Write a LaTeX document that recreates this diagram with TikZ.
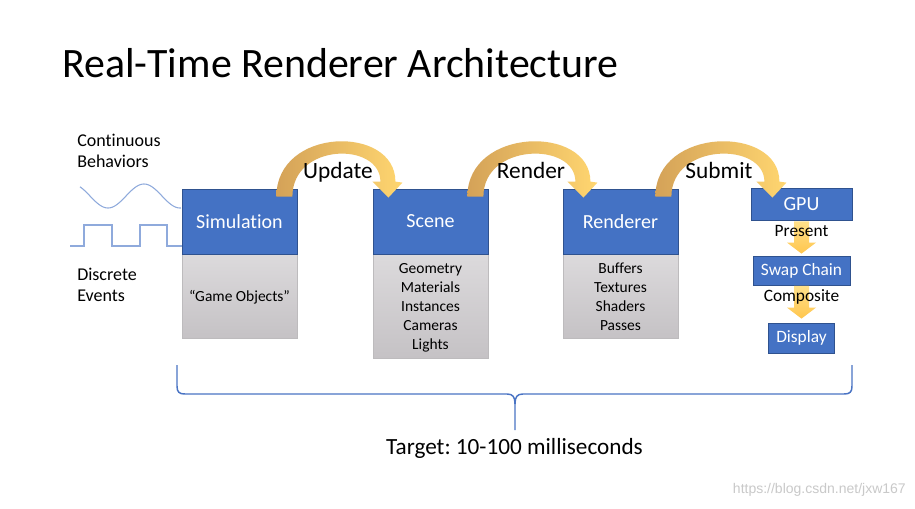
\documentclass[tikz,border=0pt]{standalone}
\usepackage{fontspec}
\setmainfont{Carlito}[Ligatures=NoCommon]
\newfontfamily\wmfont{Liberation Sans}
\usetikzlibrary{calc}
\frenchspacing
\definecolor{boxblue}{HTML}{4472C4}
\definecolor{boxedge}{HTML}{2F528F}
\definecolor{grayT}{HTML}{DCDADC}
\definecolor{grayB}{HTML}{C5C2C5}
\definecolor{grayedge}{HTML}{BDBBBD}
\definecolor{arcL}{RGB}{212,162,88}
\definecolor{arcR}{RGB}{255,214,112}
\definecolor{dnT}{HTML}{FFE08A}
\definecolor{dnB}{HTML}{FFC64E}
\definecolor{wave}{HTML}{8FAADC}
\definecolor{bracec}{HTML}{4A74C4}
\definecolor{wm}{HTML}{C9C9C9}
\tikzset{
  bluebox/.style={draw=boxedge, line width=0.6pt, fill=boxblue, text=white,
    inner sep=0pt, font=\fontsize{15}{18}\selectfont},
  graybox/.style={draw=grayedge, line width=0.4pt, top color=grayT, bottom color=grayB,
    inner sep=0pt},
  graytext/.style={align=center, inner sep=0pt, font=\fontsize{11.6}{14.25}\selectfont},
  smallblue/.style={draw=boxedge, line width=0.6pt, fill=boxblue, text=white,
    inner sep=0pt, font=\fontsize{13}{15}\selectfont},
  steplabel/.style={inner sep=0pt, font=\fontsize{13}{15}\selectfont},
  arclabel/.style={inner sep=0pt, anchor=base, font=\fontsize{17.5}{20}\selectfont},
  sidetext/.style={align=left, inner sep=0pt, font=\fontsize{13.5}{15.75}\selectfont},
  pics/carrow/.style={code={
    \shade[left color=arcL, right color=arcR]
      (-8,0) .. controls (-8,-70) and (#1+7,-72) .. (#1+7,-15)
      -- (#1+14,-14) -- (#1,1) -- (#1-16,-15) -- (#1-8,-15)
      .. controls (#1-8,-55) and (8,-54) .. (8,0) -- cycle;
  }}
}
\begin{document}
\begin{tikzpicture}[x=0.75pt,y=-0.75pt]
\useasboundingbox (0,0) rectangle (915,508);
\fill[white] (0,0) rectangle (915,508);

% title
\node[anchor=base west, inner sep=0pt, font=\fontsize{31.4}{36}\selectfont] (title) at (62,77) {Real-Time Renderer Architecture};

% side texts
\node[sidetext, anchor=west] (cont) at (77,150.5) {Continuous\\Behaviors};
\node[sidetext, anchor=west] (disc) at (77,284.5) {Discrete\\Events};

% waves
\draw[wave, line width=0.8pt, domain=80:181, samples=80, smooth]
  plot (\x, {196+12*cos(5*(\x-108))});
\draw[wave, line width=0.8pt]
  (70,246) -- (84,246) -- (84,225) -- (112,225) -- (112,246) -- (140,246)
  -- (140,225) -- (167,225) -- (167,246) -- (182,246);

% main columns
\node[graybox, minimum width=115*0.75pt, minimum height=84*0.75pt] (simg) at (239.5,296) {};
\node[bluebox, minimum width=115*0.75pt, minimum height=65*0.75pt] (sim) at (239.5,221.5) {Simulation};
\node[graytext] (simt) at (239.5,297) {“Game Objects”};

\node[graybox, minimum width=115*0.75pt, minimum height=104*0.75pt] (sceneg) at (430.5,306) {};
\node[bluebox, minimum width=115*0.75pt, minimum height=65*0.75pt] (scene) at (430.5,221.5) {Scene};
\node[graytext] (scenet) at (430.5,307.5) {Geometry\\Materials\\Instances\\Cameras\\Lights};

\node[graybox, minimum width=115*0.75pt, minimum height=84*0.75pt] (rendg) at (620.5,296) {};
\node[bluebox, minimum width=115*0.75pt, minimum height=65*0.75pt] (rend) at (620.5,221.5) {Renderer};
\node[graytext] (rendt) at (620.5,296.5) {Buffers\\Textures\\Shaders\\Passes};

% GPU chain
\node[smallblue, font=\fontsize{15}{18}\selectfont, minimum width=101*0.75pt, minimum height=32*0.75pt] (gpu) at (801.5,204.5) {GPU};
\node[smallblue, minimum width=97*0.75pt, minimum height=29*0.75pt] (swap) at (801.5,270.5) {Swap Chain};
\node[smallblue, minimum width=66*0.75pt, minimum height=30*0.75pt] (disp) at (801.5,338) {Display};

% down arrows
\shade[top color=dnT, bottom color=dnB]
  ($(gpu.south)+(-7.5,0.5)$) -- ($(gpu.south)+(7.5,0.5)$) -- ($(swap.north)+(7.5,-13)$)
  -- ($(swap.north)+(14.5,-13)$) -- ($(swap.north)+(0,-2)$) -- ($(swap.north)+(-14.5,-13)$)
  -- ($(swap.north)+(-7.5,-13)$) -- cycle;
\shade[top color=dnT, bottom color=dnB]
  ($(swap.south)+(-7.5,0.5)$) -- ($(swap.south)+(7.5,0.5)$) -- ($(disp.north)+(7.5,-15)$)
  -- ($(disp.north)+(14.5,-15)$) -- ($(disp.north)+(0,-4)$) -- ($(disp.north)+(-14.5,-15)$)
  -- ($(disp.north)+(-7.5,-15)$) -- cycle;
\node[steplabel] (present) at (801.5,231) {Present};
\node[steplabel] (compo) at (801.5,297) {Composite};

% curved arrows
\pic at ($(sim.north east)+(-13,8)$) {carrow=104};
\pic at ($(scene.north east)+(-13,8)$) {carrow=108};
\pic at ($(rend.north east)+(-15,8)$) {carrow=109};
\node[arclabel] (upd) at (338,178) {Update};
\node[arclabel] (rnd) at (531,178) {Render};
\node[arclabel] (sub) at (719,178) {Submit};

% brace
\draw[bracec, line width=1.1pt, line join=round]
  (177,365) -- (177,386) .. controls (177,392) and (179,394) .. (185,394)
  -- (507,394) .. controls (513,394) and (515,397) .. (515,404) -- (515,430);
\draw[bracec, line width=1.1pt, line join=round]
  (852,365) -- (852,386) .. controls (852,392) and (850,394) .. (844,394)
  -- (523,394) .. controls (517,394) and (515,397) .. (515,404);
\node[inner sep=0pt, anchor=base, font=\fontsize{17.4}{20}\selectfont] (target) at (514.5,454) {Target: 10-100 milliseconds};

% watermark
\node[anchor=east, inner sep=0pt, text=wm, font=\wmfont\fontsize{10.5}{12}\selectfont] (wmark) at (906,490) {https://blog.csdn.net/jxw167};
\end{tikzpicture}
\end{document}
